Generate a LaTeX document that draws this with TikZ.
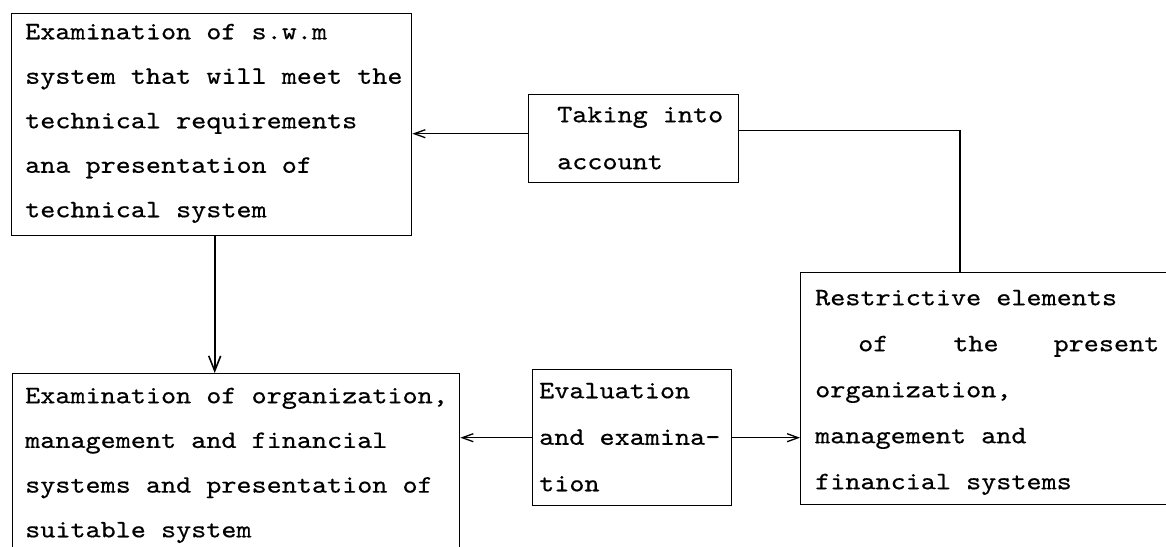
\documentclass[tikz,border=0pt]{standalone}
\usepackage{fontspec}
\newfontfamily\typer[FakeStretch=1.15,FakeBold=0.5]{lmmono10-regular.otf}
\usetikzlibrary{arrows.meta}

\begin{document}
\begin{tikzpicture}[x=1pt,y=-1pt,
  box/.style={draw, line width=1.4pt, inner sep=0pt, anchor=north west},
  txt/.style={inner sep=0pt, anchor=north west, align=left},
  link/.style={line width=1.3pt},
  arr/.style={link, -{Straight Barb[length=11pt,width=8pt]}},
  downarr/.style={link, line width=1.6pt, -{Straight Barb[length=15pt,width=12pt]}}
]
\clip (0,0) rectangle (1166,546);
\fill[white] (0,0) rectangle (1166,546);

% frames
\node[box, minimum width=400pt, minimum height=222pt] (A) at (11,13) {};
\node[box, minimum width=447pt, minimum height=190pt] (B) at (12,373) {};
\node[box, minimum width=210pt, minimum height=88pt]  (C) at (528,94) {};
\node[box, minimum width=390pt, minimum height=232pt] (D) at (800,272) {};
\node[box, minimum width=199pt, minimum height=136pt] (E) at (532,369) {};

% texts
\node[txt, font=\typer\fontsize{25}{44.5}\selectfont] (At) at (25,7.9) {%
\strut Examination of s.w.m\\
\strut system that will meet the\\
\strut technical requirements\\
\strut ana presentation of\\
\strut technical system};
\node[txt, font=\typer\fontsize{25}{44.7}\selectfont] (Bt) at (25,371.7) {%
\strut Examination of organization,\\
\strut management and financial\\
\strut systems and presentation of\\
\strut suitable system};
\node[txt, font=\typer\fontsize{25}{47}\selectfont] (Ct) at (557,89.1) {%
\strut Taking into\\
\strut account};
\node[txt, font=\typer\fontsize{25}{46}\selectfont] (Dt) at (815,272.8) {%
\strut Restrictive elements\\
\strut\hspace*{43pt}of\hspace{65pt}the\hspace{55pt}present\\
\strut organization,\\
\strut management and\\
\strut financial systems};
\node[txt, font=\typer\fontsize{25}{46.5}\selectfont] (Et) at (539,365.5) {%
\strut Evaluation\\
\strut and examina-\\
\strut tion};

% connectors
\draw[downarr] ([xshift=3pt]A.south) -- ([xshift=3pt]A.south |- B.north);
\draw[arr] ([yshift=5pt]C.west) -- ([yshift=5pt]C.west -| A.east);
\draw[link] ([yshift=8pt]C.east) -| ([xshift=160pt]D.north west);
\draw[arr] (E.west) -- (E.west -| B.east);
\draw[arr] (E.east) -- (E.east -| D.west);
\end{tikzpicture}
\end{document}
